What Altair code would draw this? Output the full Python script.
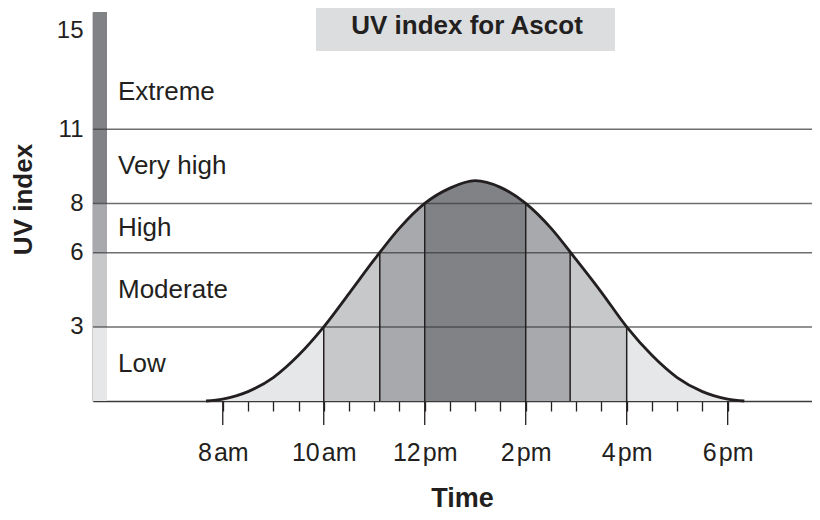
import altair as alt
import pandas as pd

# ---- data ----
hours = [7.67, 8, 8.5, 9, 9.5, 10, 10.5, 11, 11.5, 12, 12.5, 13, 13.5,
         14, 14.5, 15, 15.5, 16, 16.5, 17, 17.5, 18, 18.33]
uv = [0, 0.08, 0.38, 0.95, 1.85, 3.0, 4.35, 5.72, 7.0, 8.0, 8.62, 8.92, 8.65,
      8.0, 7.0, 5.72, 4.4, 3.0, 1.85, 0.95, 0.38, 0.08, 0]

cross_hours = [10, 11.11, 12, 14, 14.88, 16]
cross_uv = [3, 6, 8, 8, 6, 3]
segment_colors = ["#e6e7e8", "#c7c8ca", "#a7a9ac", "#808285",
                  "#a7a9ac", "#c7c8ca", "#e6e7e8"]

band_names = ["Low", "Moderate", "High", "Very high", "Extreme"]
band_label_y = [1.5, 4.5, 7, 9.5, 12.5]
strip_lo = [0, 3, 6, 8]
strip_hi = [3, 6, 8, 15.75]
strip_colors = ["#e6e7e8", "#c7c8ca", "#a7a9ac", "#808285"]
grid_levels = [3, 6, 8, 11]

y_ticks = [3, 6, 8, 11, 15]
x_minor_ticks = [8 + 0.5 * i for i in range(21)]
x_label_hours = [8, 10, 12, 14, 16, 18]
x_labels = ["8\u200aam", "10\u200aam", "12\u200apm", "2\u200apm", "4\u200apm", "6\u200apm"]
title_text = "UV index for Ascot"

FONT = "Liberation Sans"
INK = "#231f20"
W, H = 719, 389
X_DOMAIN = [5.43, 19.67]
Y_DOMAIN = [0, 15.75]

xscale = alt.Scale(domain=X_DOMAIN, nice=False, zero=False)
yscale = alt.Scale(domain=Y_DOMAIN, nice=False)

curve = pd.DataFrame({"t": hours, "uv": uv})
cross = pd.DataFrame({"t": cross_hours, "uv": cross_uv, "base": [0] * len(cross_hours)})
strip = pd.DataFrame({"uv": strip_lo, "hi": strip_hi, "c": strip_colors})
grid = pd.DataFrame({"uv": grid_levels})
labels = pd.DataFrame({"name": band_names, "uv": band_label_y})
major = pd.DataFrame({"t": x_label_hours})
title_df = pd.DataFrame({"title": [title_text]})

# gradient stops for the banded fill under the curve
t0, t1 = hours[0], hours[-1]
edges = [t0] + cross_hours + [t1]
stops = []
for i, col in enumerate(segment_colors):
    a = (edges[i] - t0) / (t1 - t0)
    b = (edges[i + 1] - t0) / (t1 - t0)
    stops.append(alt.GradientStop(offset=a, color=col))
    stops.append(alt.GradientStop(offset=b, color=col))

label_expr = " : ".join(
    f"datum.value == {h} ? '{lab}'" for h, lab in zip(x_label_hours, x_labels)
) + " : ''"

x_axis = alt.Axis(
    values=x_minor_ticks,
    labelExpr=label_expr,
    tickSize=10,
    tickColor=INK, tickWidth=1.3,
    domainColor="#3a3a3c", domainWidth=1.5,
    labelFont=FONT, labelFontSize=25, labelColor=INK,
    labelPadding=29, labelBaseline="top", labelFlush=False, labelOverlap=False,
    grid=False,
    title="Time", titleFont=FONT, titleFontSize=27, titleFontWeight="bold",
    titleColor=INK, titleX=369, titleY=97, titleBaseline="middle", titleAlign="center",
)
y_axis = alt.Axis(
    values=y_ticks, ticks=False,
    domainColor="#3a3a3c", domainWidth=1.5,
    labelFont=FONT, labelFontSize=24, labelColor=INK, labelPadding=10,
    grid=False,
    title="UV index", titleFont=FONT, titleFontSize=26, titleFontWeight="bold",
    titleColor=INK, titleAngle=270, titleX=-70, titleY=187,
    titleBaseline="middle", titleAlign="center",
)

X = alt.X("t:Q", scale=xscale, axis=x_axis)
Y = alt.Y("uv:Q", scale=yscale, axis=y_axis)

area_layer = alt.Chart(curve).mark_area(
    interpolate="monotone",
    color=alt.Gradient(gradient="linear", stops=stops, x1=0, x2=1, y1=0, y2=0),
).encode(x=X, y=Y)

strip_layer = alt.Chart(strip).mark_rect().encode(
    x=alt.value(0), x2=alt.value(14),
    y=Y, y2="hi:Q",
    color=alt.Color("c:N", scale=None),
)

grid_layer = alt.Chart(grid).mark_rule(color="#3d3d3d", opacity=0.75, strokeWidth=1.5).encode(
    y=Y, x=alt.value(0), x2=alt.value(W),
)

cross_layer = alt.Chart(cross).mark_rule(color=INK, strokeWidth=1.5).encode(
    x=X, y=alt.Y("base:Q", scale=yscale, axis=y_axis), y2="uv:Q",
)

major_tick_layer = alt.Chart(major).mark_rule(color=INK, strokeWidth=1.3).encode(
    x=X, y=alt.value(H), y2=alt.value(H + 24),
)

line_layer = alt.Chart(curve).mark_line(
    interpolate="monotone", color=INK, strokeWidth=2.8
).encode(x=X, y=Y)

label_layer = alt.Chart(labels).mark_text(
    align="left", baseline="middle", font=FONT, fontSize=26, color=INK
).encode(
    x=alt.value(25), y=Y, text="name:N",
)

title_box = alt.Chart(title_df).mark_rect(color="#dcdddf").encode(
    x=alt.value(223), x2=alt.value(522),
    y=alt.value(-11), y2=alt.value(39),
)
title_layer = alt.Chart(title_df).mark_text(
    align="center", baseline="middle", font=FONT, fontSize=26,
    fontWeight="bold", color=INK
).encode(
    x=alt.value(374), y=alt.value(14), text="title:N",
)

chart = alt.layer(
    area_layer, strip_layer, grid_layer, cross_layer, major_tick_layer, line_layer,
    label_layer, title_box, title_layer,
).properties(
    width=W, height=H,
    padding={"left": 85, "top": 4, "right": 0, "bottom": 111},
    autosize=alt.AutoSizeParams(type="none"),
    background="white",
).configure_view(stroke=None)

chart.save("out.html", embed_options={"renderer": "svg", "actions": False})
